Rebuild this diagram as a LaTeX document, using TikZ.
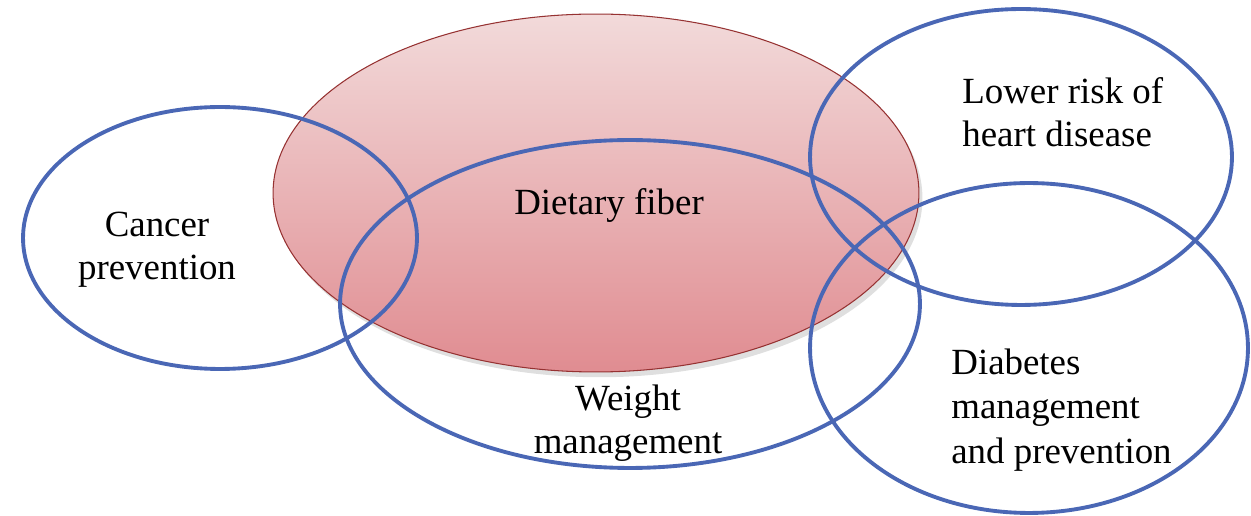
\documentclass[tikz,border=0pt]{standalone}
\usepackage{fontspec}
\setmainfont{Liberation Serif}
\usetikzlibrary{shapes.geometric,shadows}
\definecolor{ringblue}{RGB}{74,103,181}
\definecolor{fibertop}{RGB}{242,218,218}
\definecolor{fiberbot}{RGB}{224,140,145}
\definecolor{fiberedge}{RGB}{150,50,50}
\begin{document}
\begin{tikzpicture}[x=0.02cm,y=-0.02cm,
  ring/.style={ellipse,draw=ringblue,line width=2.2pt,inner sep=0pt},
  core/.style={ellipse,draw=fiberedge,line width=0.6pt,inner sep=0pt,
    top color=fibertop,bottom color=fiberbot,
    drop shadow={opacity=0.25,shadow xshift=2pt,shadow yshift=-3pt}},
  lbl/.style={font=\fontsize{21}{24.5}\selectfont,inner sep=0pt}]
\useasboundingbox (0,0) rectangle (1251,516);
\node[core,minimum width=12.92cm,minimum height=7.16cm] (fiber) at (596,193) {};
\node[ring,minimum width=7.88cm,minimum height=5.24cm] (cancer) at (220,238) {};
\node[ring,minimum width=11.6cm,minimum height=6.56cm] (weight) at (630,304) {};
\node[ring,minimum width=8.44cm,minimum height=5.92cm] (heart) at (1021,157) {};
\node[ring,minimum width=8.76cm,minimum height=6.6cm] (diab) at (1029,348) {};
\node[lbl] (tfiber) at (609,205) {Dietary fiber};
\node[lbl,align=center] (tcancer) at (157,250) {Cancer\\prevention};
\node[lbl,align=center] (tweight) at (628,423) {Weight\\management};
\node[lbl,align=left,anchor=west] (theart) at (962,112) {Lower risk of\\heart  disease};
\node[lbl,align=left,anchor=west,font=\fontsize{21}{25.3}\selectfont] (tdiab) at (951,410) {Diabetes\\management\\and prevention};
\end{tikzpicture}
\end{document}
